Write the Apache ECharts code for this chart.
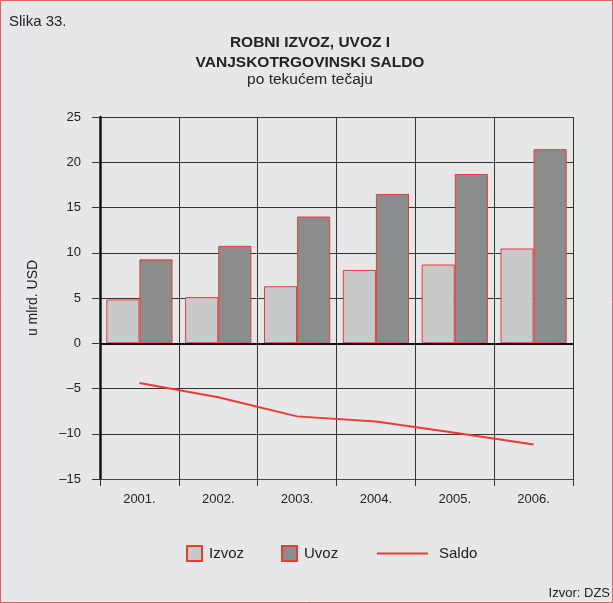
<!DOCTYPE html>
<html>
<head>
<meta charset="utf-8">
<script src="https://cdn.jsdelivr.net/npm/echarts@6/dist/echarts.min.js"></script>
<style>
html,body{margin:0;padding:0;background:#e6e7e8;}
#chart{width:613px;height:603px;}
</style>
</head>
<body>
<div id="chart"></div>
<script>
const categories = ['2001.', '2002.', '2003.', '2004.', '2005.', '2006.'];
const izvoz = [4.84, 5.1, 6.3, 8.1, 8.7, 10.47];
const uvoz = [9.27, 10.76, 14.0, 16.5, 18.7, 21.44];
const saldo = [-4.4, -5.96, -8.08, -8.65, -9.9, -11.2];
const yTicks = { min: -15, max: 25, interval: 5 };

const FONT = '"Liberation Sans", Arial, Helvetica, sans-serif';
const RED = '#ec3b32';
const chart = echarts.init(document.getElementById('chart'), null, { renderer: 'canvas' });

const option = {
  backgroundColor: '#e6e7e8',
  animation: false,
  textStyle: { fontFamily: FONT, color: '#222' },
  title: [
    { text: 'Slika 33.', left: 9, top: 14, padding: 0,
      textStyle: { fontFamily: FONT, fontSize: 15, fontWeight: 'normal', color: '#222', lineHeight: 16 } },
    { text: 'ROBNI IZVOZ, UVOZ I\nVANJSKOTRGOVINSKI SALDO', left: 310, textAlign: 'center', top: 33, padding: 0,
      textStyle: { fontFamily: FONT, fontSize: 15.5, fontWeight: 'bold', color: '#222', lineHeight: 20 } },
    { text: 'po tekućem tečaju', left: 310, textAlign: 'center', top: 71, padding: 0,
      textStyle: { fontFamily: FONT, fontSize: 15.5, fontWeight: 'normal', color: '#222', lineHeight: 18 } },
    { text: 'Izvor: DZS', right: 3, bottom: 3, padding: 0,
      textStyle: { fontFamily: FONT, fontSize: 13, fontWeight: 'normal', color: '#222' } }
  ],
  legend: [
    { data: ['Izvoz', 'Uvoz'], left: 186, top: 545, padding: 0, icon: 'rect',
      itemWidth: 15, itemHeight: 15, itemGap: 37,
      textStyle: { fontFamily: FONT, fontSize: 15, color: '#222', padding: [0, 0, 0, 2] } },
    { data: [{ name: 'Saldo', icon: 'rect' }], left: 377, top: 546, padding: 0,
      itemWidth: 51, itemHeight: 2,
      itemStyle: { color: RED, borderWidth: 0 },
      textStyle: { fontFamily: FONT, fontSize: 15, color: '#222', padding: [0, 0, 0, 6] } }
  ],
  grid: { left: 100, right: 40, top: 117, bottom: 124, containLabel: false },
  xAxis: {
    type: 'category', data: categories, boundaryGap: true,
    axisLine: { onZero: false, lineStyle: { color: '#444', width: 1 } },
    axisTick: { show: true, length: 7, alignWithLabel: false, lineStyle: { color: '#333', width: 1 } },
    axisLabel: { margin: 14, fontFamily: FONT, fontSize: 13, color: '#222' },
    splitLine: { show: true, lineStyle: { color: '#333', width: 1 } }
  },
  yAxis: {
    type: 'value', min: yTicks.min, max: yTicks.max, interval: yTicks.interval,
    name: 'u mlrd. USD', nameLocation: 'middle', nameGap: 60, nameRotate: 90,
    nameTextStyle: { fontFamily: FONT, fontSize: 14, color: '#222' },
    axisLine: { show: true, lineStyle: { color: '#111', width: 2.5 } },
    axisTick: { show: true, length: 8, lineStyle: { color: '#333', width: 1 } },
    axisLabel: { margin: 19, fontFamily: FONT, fontSize: 13, color: '#222',
      formatter: v => (v < 0 ? '\u2013' + Math.abs(v) : String(v)) },
    splitLine: { show: true, lineStyle: { color: '#333', width: 1 } }
  },
  series: [
    { name: 'Izvoz', type: 'bar', data: izvoz, barGap: '0%', barCategoryGap: '16%',
      itemStyle: { color: '#c8c9cb', borderColor: RED, borderWidth: 1 },
      markLine: { silent: true, symbol: 'none', label: { show: false },
        lineStyle: { color: '#111', width: 2, type: 'solid' }, data: [{ yAxis: 0 }] } },
    { name: 'Uvoz', type: 'bar', data: uvoz,
      itemStyle: { color: '#8b8c8e', borderColor: RED, borderWidth: 1 } },
    { name: 'Saldo', type: 'line', data: saldo, symbol: 'none', showSymbol: false,
      lineStyle: { color: RED, width: 2 }, itemStyle: { color: RED } }
  ],
  graphic: [
    { type: 'rect', shape: { x: 0.5, y: 0.5, width: 612, height: 602 }, silent: true,
      style: { fill: null, stroke: '#e8605a', lineWidth: 1 } }
  ]
};
chart.setOption(option);
</script>
</body>
</html>
